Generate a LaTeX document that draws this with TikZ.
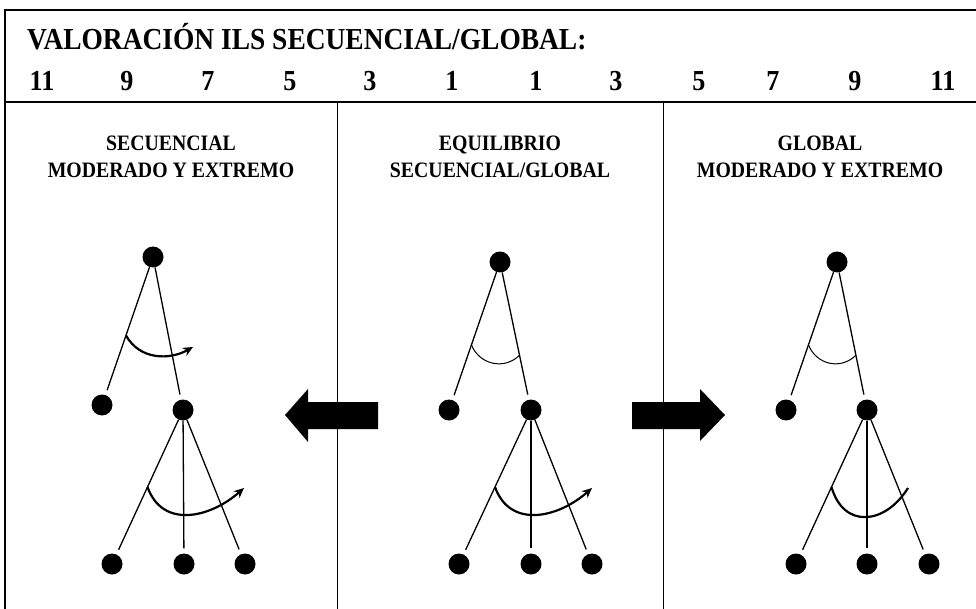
\documentclass[tikz,border=0pt]{standalone}
\usepackage{fontspec}
\setmainfont[FakeStretch=0.9]{Liberation Serif}
\usetikzlibrary{arrows.meta,calc}

\begin{document}
\begin{tikzpicture}[x=1pt, y=-1pt,
	dot/.style={circle, fill=black, inner sep=0pt, minimum size=21pt},
	branch/.style={line width=1.3pt, shorten >=5pt},
	turn/.style={line width=2.2pt, -{Stealth[length=10pt, width=9pt]}},
	angmark/.style={line width=1pt},
	scalenum/.style={anchor=base, inner sep=0pt, font=\fontsize{29}{32}\selectfont\bfseries},
	headtext/.style={align=center, inner sep=0pt, font=\fontsize{22}{27}\selectfont\bfseries}]
	\useasboundingbox (0,0) rectangle (976,609);

	\draw[line width=1.6pt] (5,609) -- (5,10) -- (976,10);
	\draw[line width=1.6pt] (5,102) -- (976,102);
	\draw[line width=1pt] (337,102) -- (337,609);
	\draw[line width=1pt] (663,102) -- (663,609);

	\node[anchor=base west, inner sep=0pt, font=\fontsize{30.5}{33}\selectfont\bfseries] (title) at (27,50) {VALORACIÓN ILS SECUENCIAL/GLOBAL:};
	\foreach \x/\n [count=\i] in {42/11, 127/9, 208/7, 290/5, 370/3, 452/1, 536/1, 616/3, 699/5, 773/7, 855/9, 943/11}
		\node[scalenum] (num\i) at (\x,91) {\n};

	\node[headtext] (headL) at (171,157) {SECUENCIAL\\MODERADO Y EXTREMO};
	\node[headtext] (headM) at (500,157) {EQUILIBRIO\\SECUENCIAL/GLOBAL};
	\node[headtext] (headR) at (820,157) {GLOBAL\\MODERADO Y EXTREMO};

	% secuencial
	\node[dot] (t1) at (153,257) {};
	\node[dot] (l1) at (102,405) {};
	\node[dot] (r1) at (183,410) {};
	\node[dot] (a1) at (112,564) {};
	\node[dot] (b1) at (184,564) {};
	\node[dot] (c1) at (245,564) {};
	\draw[branch] (t1) -- (l1);
	\draw[branch] (t1) -- (r1);
	\draw[branch] (r1) -- (a1);
	\draw[branch] (r1) -- (b1);
	\draw[branch] (r1) -- (c1);
	\coordinate (s1) at ($(t1)!0.53!(l1)$);
	\coordinate (e1) at (193,347);
	\draw[turn] (s1) .. controls +(14,25) and +(-23,13) .. (e1);
	\coordinate (s2) at ($(r1)!0.5!(a1)$);
	\coordinate (e2) at (244,488);
	\draw[turn] (s2) .. controls +(15,42) and +(-34,30) .. (e2);

	% equilibrio
	\node[dot] (t2) at (500,262) {};
	\node[dot] (l2) at (449,410) {};
	\node[dot] (r2) at (531,410) {};
	\node[dot] (a2) at (459,564) {};
	\node[dot] (b2) at (531,564) {};
	\node[dot] (c2) at (592,564) {};
	\draw[branch] (t2) -- (l2);
	\draw[branch] (t2) -- (r2);
	\draw[branch] (r2) -- (a2);
	\draw[branch] (r2) -- (b2);
	\draw[branch] (r2) -- (c2);
	\coordinate (s3) at ($(t2)!0.56!(l2)$);
	\coordinate (e3) at ($(t2)!0.63!(r2)$);
	\draw[angmark] (s3) .. controls +(8,20) and +(-15,15) .. (e3);
	\coordinate (s4) at ($(r2)!0.5!(a2)$);
	\coordinate (e4) at (592,488);
	\draw[turn] (s4) .. controls +(15,42) and +(-34,30) .. (e4);

	% global
	\node[dot] (t3) at (837,262) {};
	\node[dot] (l3) at (786,410) {};
	\node[dot] (r3) at (867,410) {};
	\node[dot] (a3) at (796,564) {};
	\node[dot] (b3) at (867,564) {};
	\node[dot] (c3) at (929,564) {};
	\draw[branch] (t3) -- (l3);
	\draw[branch] (t3) -- (r3);
	\draw[branch] (r3) -- (a3);
	\draw[branch] (r3) -- (b3);
	\draw[branch] (r3) -- (c3);
	\coordinate (s5) at ($(t3)!0.56!(l3)$);
	\coordinate (e5) at ($(t3)!0.63!(r3)$);
	\draw[angmark] (s5) .. controls +(8,20) and +(-15,15) .. (e5);
	\coordinate (s6) at ($(r3)!0.5!(a3)$);
	\coordinate (e6) at (908,488);
	\draw[line width=2.2pt] (s6) .. controls +(12,42) and +(-23,37) .. (e6);

	\fill (285,415) -- (308,389) -- (308,402) -- (378,402) -- (378,429) -- (308,429) -- (308,442) -- cycle;
	\fill (725,415) -- (700,389) -- (700,402) -- (632,402) -- (632,429) -- (700,429) -- (700,441) -- cycle;
\end{tikzpicture}
\end{document}
